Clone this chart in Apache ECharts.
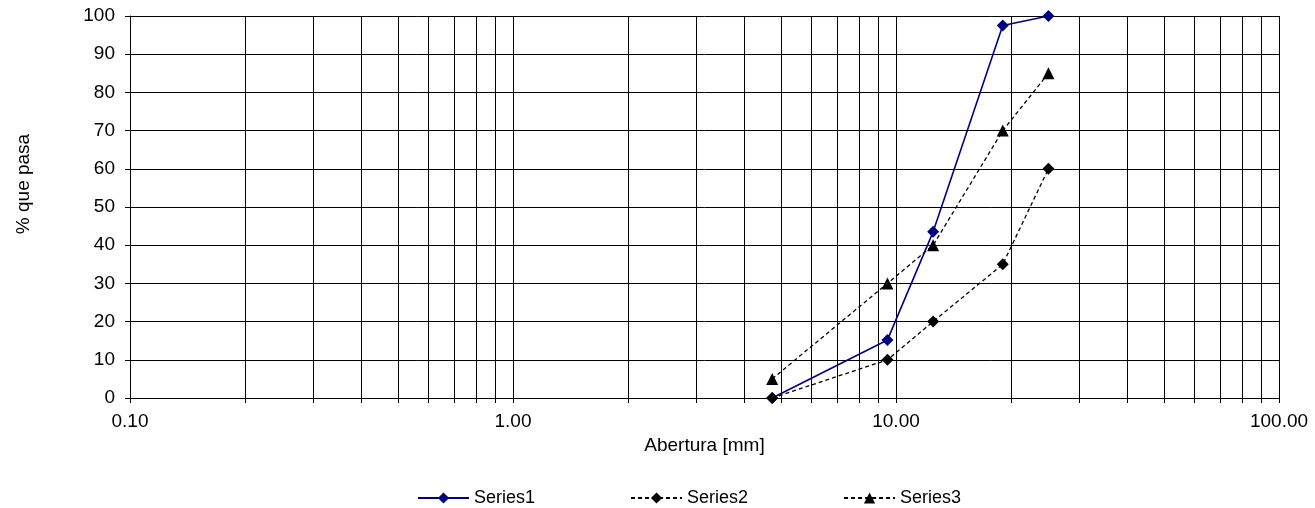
<!DOCTYPE html>
<html>
<head>
<meta charset="utf-8">
<script src="https://cdn.jsdelivr.net/npm/echarts@6/dist/echarts.min.js"></script>
<style>
  html, body { margin: 0; padding: 0; background: #fff; }
  #chart { width: 1315px; height: 508px; }
</style>
</head>
<body>
<div id="chart"></div>
<script>
// Sieve openings (mm) and percent passing for each curve
const sieveSizes = [4.75, 9.5, 12.5, 19, 25];
const series1 = [0, 15.2, 43.5, 97.5, 100];
const series2 = [0, 10, 20, 35, 60];
const series3 = [5, 30, 40, 70, 85];
const seriesNames = ['Series1', 'Series2', 'Series3'];

// Logarithmic x-axis range and the decade grid lines (1..9 × each decade)
const xMin = 0.1, xMax = 100;
const gridValues = [];
for (let decade = 0.1; decade < xMax; decade *= 10) {
  for (let k = 1; k <= 10; k++) gridValues.push(+(decade * k).toPrecision(3));
}

const FONT = '"Liberation Sans", Arial, sans-serif';
const chart = echarts.init(document.getElementById('chart'), null, { renderer: 'canvas' });

const pairs = vals => sieveSizes.map((s, i) => [s, vals[i]]);

chart.setOption({
  animation: false,
  backgroundColor: '#fff',
  textStyle: { fontFamily: FONT, color: '#000' },
  grid: { left: 130, right: 36, top: 16, bottom: 110, containLabel: false },
  xAxis: {
    type: 'log',
    logBase: 10,
    min: xMin,
    max: xMax,
    name: 'Abertura [mm]',
    nameLocation: 'middle',
    nameGap: 36,
    nameTextStyle: { fontSize: 19, color: '#000', fontFamily: FONT },
    axisLine: { show: true, lineStyle: { color: '#000', width: 1 } },
    axisTick: { show: false },
    splitLine: { show: false },
    axisLabel: {
      fontSize: 19, color: '#000', margin: 14, fontFamily: FONT,
      formatter: v => v.toFixed(2)
    }
  },
  yAxis: {
    type: 'value',
    min: 0,
    max: 100,
    interval: 10,
    axisLine: { show: true, lineStyle: { color: '#000', width: 1 } },
    axisTick: { show: true, inside: false, length: 5, lineStyle: { color: '#000' } },
    splitLine: { show: true, lineStyle: { color: '#000', width: 1 } },
    axisLabel: { fontSize: 19, color: '#000', margin: 15, fontFamily: FONT }
  },
  legend: {
    data: seriesNames,
    left: 412,
    top: 484,
    itemWidth: 51,
    itemHeight: 14,
    itemGap: 95,
    textStyle: { fontSize: 18, color: '#000', fontFamily: FONT }
  },
  graphic: [{
    type: 'text',
    x: 24,
    y: 184,
    rotation: Math.PI / 2,
    style: {
      text: '% que pasa',
      font: '19px ' + FONT,
      fill: '#000',
      align: 'center',
      verticalAlign: 'middle'
    }
  }],
  series: [
    {
      // vertical log-decade grid lines with short ticks below the axis
      type: 'custom',
      silent: true,
      clip: false,
      z: 1,
      data: gridValues.map(v => [v, 0]),
      encode: { x: 0, y: 1 },
      renderItem: (params, api) => {
        const v = api.value(0);
        const top = api.coord([v, 100]);
        const bot = api.coord([v, 0]);
        const px = Math.round(top[0]) + 0.5;
        return {
          type: 'line',
          shape: { x1: px, y1: top[1], x2: px, y2: bot[1] + 5 },
          style: { stroke: '#000', lineWidth: 1 }
        };
      }
    },
    {
      name: 'Series1',
      type: 'line',
      z: 3,
      data: pairs(series1),
      symbol: 'diamond',
      symbolSize: 12,
      itemStyle: { color: '#000080' },
      lineStyle: { color: '#000080', width: 1.6 }
    },
    {
      name: 'Series2',
      type: 'line',
      z: 3,
      data: pairs(series2),
      symbol: 'diamond',
      symbolSize: 12,
      itemStyle: { color: '#000' },
      lineStyle: { color: '#000', width: 1.3, type: [4, 3] }
    },
    {
      name: 'Series3',
      type: 'line',
      z: 3,
      data: pairs(series3),
      symbol: 'triangle',
      symbolSize: 12,
      itemStyle: { color: '#000' },
      lineStyle: { color: '#000', width: 1.3, type: [4, 3] }
    }
  ]
});
</script>
</body>
</html>
